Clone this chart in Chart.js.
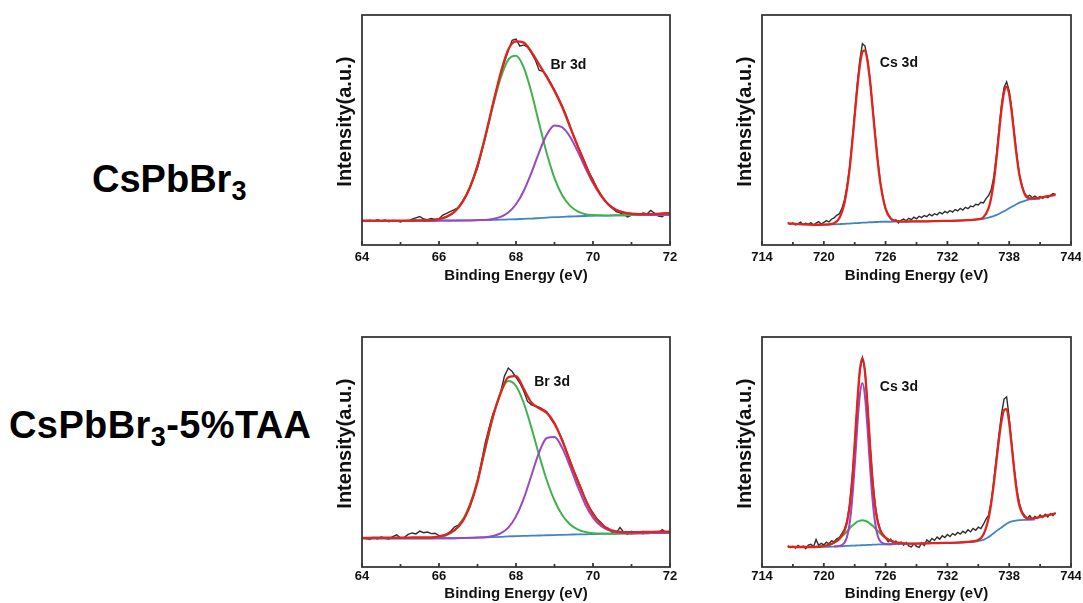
<!DOCTYPE html>
<html>
<head>
<meta charset="utf-8">
<script src="https://cdn.jsdelivr.net/npm/chart.js@4.4.1/dist/chart.umd.min.js"></script>
<style>
  html, body { margin: 0; padding: 0; background: #fff; }
  body { width: 1083px; height: 603px; position: relative; overflow: hidden;
         font-family: 'Liberation Sans', Arial, Helvetica, sans-serif; }
  .sample { position: absolute; font-weight: bold; font-size: 38px; line-height: 38px; color: #000; white-space: nowrap; }
  .sample .sub { font-size: 27px; position: relative; top: 8px; }
  canvas { position: absolute; }
</style>
</head>
<body>
<div class="sample" style="left:92px; top:160px;">CsPbBr<span class="sub">3</span></div>
<div class="sample" style="left:9px; top:406px; letter-spacing:0.4px;">CsPbBr<span class="sub">3</span>-5%TAA</div>
<canvas id="brPristine" width="355" height="285" style="left:325px; top:5px;"></canvas>
<canvas id="csPristine" width="356" height="285" style="left:725px; top:5px;"></canvas>
<canvas id="brTaa" width="355" height="276" style="left:325px; top:327px;"></canvas>
<canvas id="csTaa" width="356" height="276" style="left:725px; top:327px;"></canvas>
<script>
// sampling grids (binding energy, eV)
function grid(from, to, step) {
  const n = Math.round((to - from) / step) + 1;
  return Array.from({ length: n }, (_, i) => +(from + i * step).toFixed(2));
}
const brRawEnergy = grid(64, 72, 0.1);
const brFitEnergy = grid(64, 72, 0.2);
const csRawEnergy = grid(716.5, 742.5, 0.25);
const csFitEnergy = [716.5, 717.5, 718.5, 719.5, 720.5, 721, 721.5, 722,
  722.25, 722.5, 722.75, 723, 723.25, 723.5, 723.75, 724, 724.25, 724.5, 724.75, 725, 725.25, 725.5,
  726, 726.5, 727, 728, 729, 730, 731, 732, 733, 734, 735, 735.5, 736,
  736.25, 736.5, 736.75, 737, 737.25, 737.5, 737.75, 738, 738.25, 738.5, 738.75, 739,
  739.5, 740, 740.5, 741, 741.5, 742, 742.5];

// axis labels
const brTicks = [64, 66, 68, 70, 72];
const csTicks = [714, 720, 726, 732, 738, 744];

// ---- Br 3d, CsPbBr3 ----
const brPristineRaw = [
  10.9, 10.2, 10.8, 10.3, 11.0, 10.4, 10.9, 10.1, 10.7, 10.5,
  10.0, 10.6, 10.3, 11.2, 11.8, 12.4, 11.3, 11.0, 11.5, 11.1,
  11.4, 13.0, 13.8, 14.6, 15.4, 16.3, 18.8, 21.5, 25.0, 29.0,
  33.5, 40.0, 46.5, 54.0, 61.5, 68.0, 74.0, 79.5, 84.5, 89.0,
  89.5, 86.5, 87.0, 86.0, 83.5, 80.5, 76.0, 75.5, 73.5, 70.5,
  67.5, 64.0, 60.5, 56.5, 52.0, 47.0, 43.0, 39.5, 35.5, 31.5,
  28.5, 25.0, 22.0, 19.5, 17.5, 16.0, 14.5, 14.0, 13.2, 12.2,
  13.0, 13.6, 13.2, 13.9, 13.5, 15.0, 13.8, 12.6, 12.3, 13.7,
  14.2];
const brPristineEnvelope = [
  10.6, 10.6, 10.6, 10.6, 10.6, 10.6, 10.6, 10.7, 10.7, 10.8,
  11.3, 12.3, 14.4, 18.4, 24.9, 34.5, 47.1, 61.2, 74.7, 85.0,
  88.5, 88.0, 84.0, 78.5, 73.0, 67.0, 60.0, 51.5, 43.2, 35.0,
  27.6, 21.8, 17.6, 15.2, 14.1, 13.6, 13.4, 13.4, 13.5, 13.7, 13.9];
const brPristineLow = [
  10.4, 10.4, 10.4, 10.4, 10.4, 10.4, 10.5, 10.5, 10.5, 10.8,
  11.3, 12.3, 14.4, 18.4, 24.9, 34.5, 46.8, 60.3, 72.5, 80.6,
  82.3, 77.2, 66.4, 52.9, 39.8, 29.1, 21.6, 17.1, 14.6, 13.4,
  13.0, 12.9, 12.8, 12.9, 12.9, 13.0, 13.0, 13.0, 13.0, 13.1, 13.1];
const brPristineHigh = [
  10.4, 10.4, 10.4, 10.4, 10.4, 10.4, 10.5, 10.5, 10.5, 10.5,
  10.6, 10.6, 10.6, 10.7, 10.7, 10.8, 10.9, 11.3, 12.2, 14.1,
  17.7, 23.5, 31.4, 40.3, 48.0, 52.0, 51.2, 47.2, 40.8, 33.6,
  26.9, 21.6, 17.7, 15.4, 14.1, 13.5, 13.2, 13.1, 13.0, 13.1, 13.1];
const brPristineBackground = [
  10.4, 10.4, 10.4, 10.4, 10.4, 10.4, 10.5, 10.5, 10.5, 10.5,
  10.6, 10.6, 10.6, 10.7, 10.7, 10.8, 10.8, 10.9, 11.0, 11.1,
  11.2, 11.4, 11.5, 11.7, 11.9, 12.1, 12.2, 12.4, 12.5, 12.6,
  12.7, 12.8, 12.8, 12.9, 12.9, 13.0, 13.0, 13.0, 13.0, 13.1, 13.1];

// ---- Br 3d, CsPbBr3-5%TAA ----
const brTaaRaw = [
  12.9, 12.4, 12.0, 12.8, 12.2, 13.0, 12.5, 12.1, 13.2, 14.0,
  12.6, 12.9, 14.2, 14.8, 14.4, 15.6, 14.9, 15.2, 14.5, 14.7,
  13.6, 12.9, 14.3, 15.5, 17.4, 18.2, 20.4, 22.5, 26.0, 31.0,
  37.5, 45.5, 54.0, 60.5, 66.5, 70.5, 76.0, 83.0, 86.5, 85.0,
  82.5, 80.0, 76.5, 72.0, 70.5, 70.0, 69.5, 68.5, 67.5, 64.5,
  62.0, 59.0, 55.5, 51.0, 46.5, 42.0, 38.0, 34.0, 29.5, 26.0,
  23.5, 21.0, 19.5, 17.2, 16.8, 15.1, 14.6, 17.2, 15.0, 14.2,
  15.5, 14.8, 15.1, 14.5, 15.2, 14.7, 15.4, 14.9, 16.2, 15.0,
  14.6];
const brTaaEnvelope = [
  12.7, 12.7, 12.8, 12.8, 12.8, 12.8, 12.8, 12.9, 12.9, 12.9,
  13.3, 14.2, 16.0, 19.5, 26.5, 37.0, 52.0, 65.5, 75.5, 82.5,
  83.0, 77.5, 71.5, 69.0, 67.0, 62.5, 55.0, 46.0, 37.5, 29.5,
  23.0, 19.0, 16.5, 15.5, 15.2, 15.2, 15.2, 15.3, 15.3, 15.4, 15.4];
const brTaaLow = [
  12.5, 12.5, 12.5, 12.5, 12.5, 12.5, 12.5, 12.5, 12.5, 12.5,
  13.0, 13.9, 15.9, 20.0, 27.1, 37.7, 51.1, 65.0, 76.0, 80.9,
  78.7, 71.3, 60.6, 48.7, 37.7, 28.9, 22.6, 18.6, 16.4, 15.2,
  14.7, 14.6, 14.5, 14.5, 14.6, 14.6, 14.7, 14.7, 14.8, 14.8, 14.9];
const brTaaHigh = [
  12.5, 12.5, 12.5, 12.5, 12.5, 12.5, 12.5, 12.5, 12.5, 12.5,
  12.5, 12.5, 12.5, 12.6, 12.7, 12.8, 12.9, 13.5, 14.6, 17.1,
  22.0, 29.7, 39.8, 49.8, 56.1, 56.5, 51.8, 43.9, 35.1, 27.2,
  21.5, 17.9, 16.0, 15.1, 14.8, 14.6, 14.7, 14.7, 14.8, 14.8, 14.9];
const brTaaBackground = [
  12.5, 12.5, 12.5, 12.5, 12.5, 12.5, 12.5, 12.5, 12.5, 12.5,
  12.5, 12.5, 12.5, 12.6, 12.7, 12.8, 12.9, 13.0, 13.1, 13.3,
  13.4, 13.5, 13.6, 13.7, 13.8, 13.9, 14.0, 14.1, 14.2, 14.2,
  14.3, 14.4, 14.5, 14.5, 14.6, 14.6, 14.7, 14.7, 14.8, 14.8, 14.9];

// ---- Cs 3d, CsPbBr3 ----
const csPristineRaw = [
  9.8, 9.0, 9.6, 8.7, 9.3, 9.9, 8.8, 9.4,
  9.0, 9.7, 8.6, 9.5, 10.2, 9.1, 9.8, 10.6,
  10.0, 11.2, 11.8, 12.9, 13.5, 15.8, 19.5, 25.5,
  33.5, 45.0, 57.5, 70.0, 80.5, 87.5, 86.5, 80.5,
  71.5, 59.5, 47.5, 36.5, 27.0, 20.5, 15.9, 13.2,
  11.6, 10.4, 10.9, 9.6, 10.7, 11.3, 10.5, 11.6,
  11.0, 12.1, 11.4, 12.5, 11.9, 12.8, 12.3, 13.4,
  12.7, 13.6, 13.1, 14.2, 13.5, 14.6, 14.0, 15.0,
  14.3, 15.4, 14.8, 15.9, 15.2, 16.4, 15.8, 16.9,
  16.6, 17.7, 17.4, 18.6, 18.3, 20.2, 21.5, 24.0,
  29.5, 38.5, 50.0, 61.0, 68.5, 71.0, 67.0, 59.0,
  48.5, 38.5, 30.5, 25.5, 22.4, 21.0, 21.6, 20.5,
  21.3, 20.4, 21.1, 20.3, 21.2, 20.6, 21.5, 22.4,
  22.0];
const csPristineEnvelope = [
  9.4, 9.1, 8.9, 8.8, 9.0, 9.5, 11.6, 18.2,
  24.4, 32.9, 43.9, 56.2, 68.2, 78.1, 84.0, 84.6, 79.8, 70.8, 59.0, 46.9, 35.7, 26.7,
  15.7, 11.5, 10.5, 10.2, 10.3, 10.3, 10.4, 10.5, 10.6, 10.8, 11.2, 12.1, 16.0,
  20.5, 27.5, 37.0, 48.2, 58.9, 66.4, 68.8, 65.5, 57.6, 47.5, 37.9, 30.3,
  22.2, 20.3, 20.3, 20.6, 21.0, 21.4, 21.8];
const csPristineBackground = [
  null, null, null, 8.8, 8.9, 9.0, 9.1, 9.2,
  9.3, 9.3, 9.4, 9.5, 9.5, 9.6, 9.7, 9.7, 9.8, 9.9, 9.9, 10.0, 10.0, 10.1,
  10.1, 10.1, 10.2, 10.2, 10.3, 10.3, 10.4, 10.5, 10.6, 10.8, 11.1, 11.4, 11.9,
  12.2, 12.6, 13.0, 13.5, 14.1, 14.7, 15.3, 16.0, 16.6, 17.2, 17.8, 18.4,
  19.2, 19.8, 20.0, 20.1, null, null, null];

// ---- Cs 3d, CsPbBr3-5%TAA ----
const csTaaRaw = [
  9.2, 8.4, 9.0, 8.2, 9.4, 8.6, 9.1, 8.0,
  9.5, 9.9, 8.8, 12.0, 9.4, 10.3, 9.6, 10.8,
  10.1, 11.4, 11.0, 12.3, 12.8, 14.5, 16.4, 20.0,
  26.8, 38.0, 53.0, 71.0, 85.5, 91.0, 85.5, 70.0,
  52.5, 37.5, 26.5, 19.8, 16.2, 13.5, 12.6, 11.0,
  12.1, 10.2, 11.3, 9.8, 10.9, 9.5, 10.6, 9.2,
  8.7, 10.1, 9.0, 8.5, 10.4, 9.3, 11.8, 10.9,
  12.4, 11.6, 13.0, 12.1, 13.6, 12.8, 14.1, 13.2,
  14.5, 13.9, 15.0, 14.3, 15.6, 14.8, 16.2, 15.3,
  16.8, 16.0, 17.3, 16.7, 18.6, 20.8, 22.5, 28.5,
  37.5, 47.5, 57.5, 66.5, 73.0, 74.0, 65.0, 53.5,
  42.5, 33.5, 27.5, 24.0, 22.4, 21.1, 22.3, 20.8,
  22.0, 21.2, 22.6, 21.5, 22.9, 21.8, 23.2, 22.4,
  23.6];
const csTaaEnvelope = [
  8.8, 8.7, 8.7, 8.8, 9.6, 10.6, 12.2, 15.7,
  19.4, 26.2, 37.6, 53.4, 71.3, 85.5, 90.8, 84.7, 69.9, 52.1, 36.6, 25.7, 19.3, 15.8,
  12.8, 11.4, 10.7, 10.2, 10.2, 10.3, 10.4, 10.5, 10.6, 10.9, 11.7, 14.1, 21.2,
  27.6, 36.0, 45.6, 55.3, 63.3, 68.2, 68.6, 62.6, 52.4, 41.5, 32.5, 26.5,
  21.8, 21.0, 21.3, 21.8, 22.3, 22.8, 23.3];
// broad component under the 3d5/2 line
const csTaaLow = [
  null, null, null, 8.8, 9.6, 10.6, 12.1, 14.3,
  15.5, 16.7, 17.9, 18.8, 19.7, 20.1, 20.3, 20.1, 19.6, 18.8, 17.9, 16.7, 15.7, 14.5,
  12.7, 11.4, 10.7, 10.2, null, null, null, null, null, null, null, null, null,
  null, null, null, null, null, null, null, null, null, null, null, null,
  null, null, null, null, null, null, null];
// narrow component of the 3d5/2 line
const csTaaHigh = [
  null, null, null, null, null, 8.9, 9.1, 10.5,
  13.1, 18.7, 29.0, 43.9, 61.0, 74.8, 80.0, 74.1, 59.9, 42.9, 28.4, 18.7, 13.4, 11.1,
  10.0, 9.9, 10.0, null, null, null, null, null, null, null, null, null, null,
  null, null, null, null, null, null, null, null, null, null, null, null,
  null, null, null, null, null, null, null];
const csTaaBackground = [
  null, null, null, 8.7, 8.8, 8.9, 9.0, 9.1,
  9.2, 9.2, 9.3, 9.3, 9.4, 9.4, 9.5, 9.5, 9.6, 9.6, 9.7, 9.7, 9.8, 9.8,
  9.9, 9.9, 10.0, 10.1, 10.2, 10.3, 10.4, 10.5, 10.6, 10.9, 11.3, 11.8, 13.0,
  13.8, 14.7, 15.6, 16.4, 17.2, 18.0, 18.8, 19.4, 19.8, 20.1, 20.3, 20.4,
  20.5, 20.5, 20.6, null, null, null, null];

// line colours
const RAW = '#2e2e2e';
const FIT = '#e2231c';
const GREEN = '#3fb34b';
const PURPLE = '#9b46c2';
const BACKGROUND = '#3f85c6';

Chart.defaults.font.family = "'Liberation Sans', Arial, Helvetica, sans-serif";
Chart.defaults.color = '#111';

// box frame, inward ticks on the energy axis and the core-level tag
const framePlugin = {
  id: 'frame',
  afterDatasetsDraw(chart, args, opts) {
    const { ctx, chartArea: a } = chart;
    const x = chart.scales.x;
    ctx.save();
    ctx.strokeStyle = '#383838';
    ctx.lineWidth = 1.8;
    ctx.beginPath();
    x.ticks.forEach(t => {
      const px = x.getPixelForValue(t.value);
      const len = opts.major.includes(t.value) ? 4 : 3;
      ctx.moveTo(px, a.bottom);
      ctx.lineTo(px, a.bottom - len);
    });
    ctx.stroke();
    ctx.strokeRect(a.left, a.top, a.right - a.left, a.bottom - a.top);
    ctx.fillStyle = '#111';
    ctx.font = "bold 14px 'Liberation Sans', Arial, sans-serif";
    ctx.textAlign = 'center';
    ctx.textBaseline = 'middle';
    ctx.fillText(opts.label, a.left + opts.at[0] * (a.right - a.left), a.top + opts.at[1] * (a.bottom - a.top));
    ctx.restore();
  }
};

function series(xs, ys, color, width, order, smooth) {
  return {
    data: xs.map((x, i) => ({ x, y: ys[i] })),
    borderColor: color,
    borderWidth: width,
    pointRadius: 0,
    fill: false,
    spanGaps: false,
    order,
    tension: 0,
    cubicInterpolationMode: smooth ? 'monotone' : 'default'
  };
}

function drawPanel(p) {
  const datasets = [series(p.fitX, p.fit, FIT, 2.3, 0, true)];
  if (p.purple) datasets.push(series(p.fitX, p.purple, PURPLE, 2, 1, true));
  if (p.green) datasets.push(series(p.fitX, p.green, GREEN, 2, 2, true));
  datasets.push(series(p.fitX, p.background, BACKGROUND, 1.8, 3, true));
  datasets.push(series(p.rawX, p.raw, RAW, 1.4, 4, false));

  new Chart(document.getElementById(p.id), {
    type: 'line',
    data: { datasets },
    plugins: [framePlugin],
    options: {
      responsive: false,
      animation: false,
      devicePixelRatio: 1,
      layout: { padding: { top: 10, right: 10, left: 0, bottom: 0 } },
      plugins: {
        legend: { display: false },
        tooltip: { enabled: false },
        frame: { label: p.label, at: p.at, major: p.major }
      },
      scales: {
        x: {
          type: 'linear',
          min: p.min,
          max: p.max,
          afterFit: s => { s.height = p.xHeight; s.paddingLeft = 0; s.paddingRight = 0; },
          grid: { display: false, drawTicks: false },
          border: { display: false },
          ticks: {
            stepSize: p.step,
            autoSkip: false,
            maxRotation: 0,
            padding: p.tickPad,
            color: '#111',
            font: { size: 13, weight: 'bold' },
            callback: v => (p.major.includes(v) ? String(v) : '')
          },
          title: {
            display: true,
            text: 'Binding Energy (eV)',
            color: '#111',
            font: { size: 15, weight: 'bold' },
            padding: { top: 0, bottom: p.titlePad }
          }
        },
        y: {
          min: 0,
          max: 100,
          afterFit: s => { s.width = 37; },
          grid: { display: false, drawTicks: false },
          border: { display: false },
          ticks: { display: false },
          title: {
            display: true,
            // leading spaces lift the rotated title a little above the axis centre
            text: '   Intensity(a.u.)',
            color: '#111',
            font: { size: 20, weight: 'bold' },
            padding: { top: 8, bottom: 0 }
          }
        }
      }
    }
  });
}

drawPanel({ id: 'brPristine', rawX: brRawEnergy, raw: brPristineRaw, fitX: brFitEnergy,
  fit: brPristineEnvelope, green: brPristineLow, purple: brPristineHigh, background: brPristineBackground,
  min: 64, max: 72, step: 1, major: brTicks, label: 'Br 3d', at: [0.67, 0.217],
  xHeight: 45, tickPad: 5, titlePad: 5 });

drawPanel({ id: 'csPristine', rawX: csRawEnergy, raw: csPristineRaw, fitX: csFitEnergy,
  fit: csPristineEnvelope, background: csPristineBackground,
  min: 714, max: 744, step: 3, major: csTicks, label: 'Cs 3d', at: [0.443, 0.209],
  xHeight: 45, tickPad: 5, titlePad: 5 });

drawPanel({ id: 'brTaa', rawX: brRawEnergy, raw: brTaaRaw, fitX: brFitEnergy,
  fit: brTaaEnvelope, green: brTaaLow, purple: brTaaHigh, background: brTaaBackground,
  min: 64, max: 72, step: 1, major: brTicks, label: 'Br 3d', at: [0.617, 0.196],
  xHeight: 36, tickPad: 2, titlePad: 0 });

drawPanel({ id: 'csTaa', rawX: csRawEnergy, raw: csTaaRaw, fitX: csFitEnergy,
  fit: csTaaEnvelope, green: csTaaLow, purple: csTaaHigh, background: csTaaBackground,
  min: 714, max: 744, step: 3, major: csTicks, label: 'Cs 3d', at: [0.443, 0.217],
  xHeight: 36, tickPad: 2, titlePad: 0 });
</script>
</body>
</html>
